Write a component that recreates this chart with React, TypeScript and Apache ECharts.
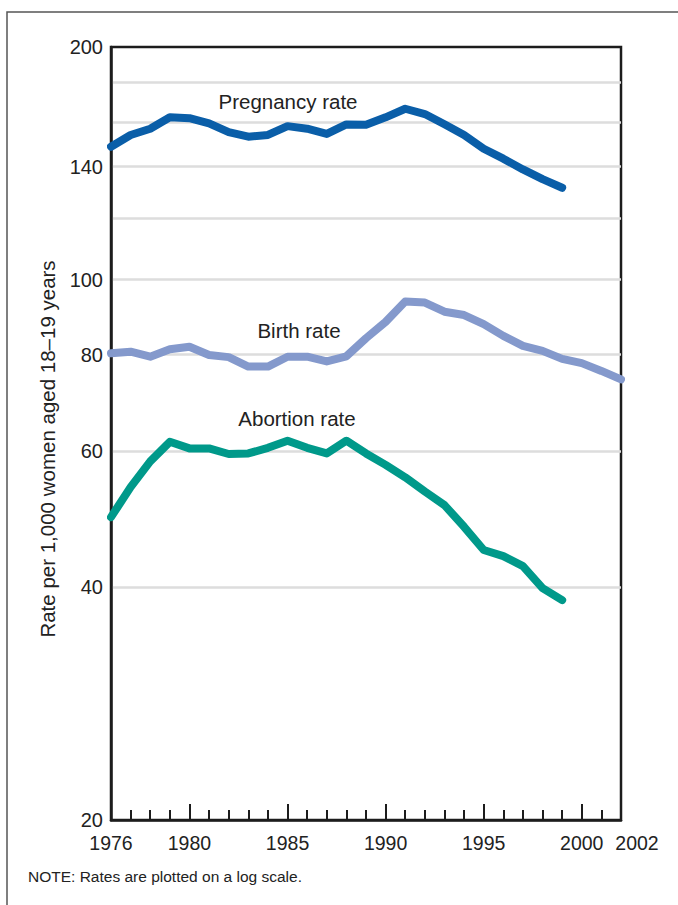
import React, { useEffect, useRef } from "react";
import * as echarts from "echarts";

const years = [
  1976, 1977, 1978, 1979, 1980, 1981, 1982, 1983, 1984, 1985, 1986, 1987, 1988,
  1989, 1990, 1991, 1992, 1993, 1994, 1995, 1996, 1997, 1998, 1999, 2000, 2001, 2002,
];
// 1976-1999
const pregnancyRate = [
  148.6, 153.9, 156.8, 162.2, 161.8, 159.3, 155.2, 153.1, 153.9, 158.0, 156.8, 154.4,
  158.8, 158.7, 162.2, 166.4, 163.8, 158.9, 153.9, 147.7, 143.4, 138.9, 134.9, 131.5,
];
// 1976-2002
const birthRate = [
  80.3, 80.7, 79.5, 81.3, 81.9, 79.9, 79.4, 77.2, 77.2, 79.5, 79.5, 78.4, 79.6, 84.0,
  88.2, 93.7, 93.4, 90.9, 90.0, 87.6, 84.6, 82.1, 80.9, 79.0, 78.0, 76.2, 74.3,
];
// 1976-1999
const abortionRate = [
  49.3, 53.9, 58.2, 61.7, 60.5, 60.5, 59.5, 59.6, 60.6, 61.9, 60.6, 59.6, 61.9, 59.6,
  57.6, 55.5, 53.2, 51.1, 47.9, 44.7, 43.9, 42.6, 39.9, 38.5,
];

const yLabelValues = [20, 40, 60, 80, 100, 140, 200];
const yGridValues = [40, 60, 80, 100, 120, 140, 160, 180];
const xLabelValues = [1976, 1980, 1985, 1990, 1995, 2000];
const xEndLabel = [2002];
const xMajorTicks = [1980, 1985, 1990, 1995, 2000];

const seriesNames = ["Pregnancy rate", "Birth rate", "Abortion rate"];
const yAxisTitle = "Rate per 1,000 women aged 18–19 years";
const noteText = "NOTE: Rates are plotted on a log scale.";

const FONT = "'Liberation Sans', Arial, Helvetica, sans-serif";
const AXIS = "#1c1c1c";

const toPairs = (vals: number[]) => vals.map((v, i) => [years[i], v]);

export default function App() {
  const ref = useRef<HTMLDivElement>(null);
  useEffect(() => {
    if (!ref.current) return;
    const chart = echarts.init(ref.current, undefined, { renderer: "svg" });
    const lineCommon = {
      type: "line" as const,
      showSymbol: false,
      symbol: "none",
      smooth: false,
      xAxisIndex: 0,
      yAxisIndex: 0,
    };
    const xLabelStyle = {
      formatter: (v: number) => String(v),
      fontSize: 19.5,
      fontFamily: FONT,
      color: "#222",
      margin: 13,
      showMinLabel: true,
      showMaxLabel: true,
      hideOverlap: false,
    };
    chart.setOption({
      animation: false,
      backgroundColor: "#ffffff",
      grid: {
        left: 111,
        top: 47,
        right: 57,
        bottom: 85,
        show: true,
        borderColor: AXIS,
        borderWidth: 2.5,
        backgroundColor: "transparent",
      },
      xAxis: [
        {
          type: "value",
          min: 1976,
          max: 2002,
          axisLine: { show: true, lineStyle: { color: AXIS, width: 2.5 } },
          axisTick: {
            show: true,
            inside: true,
            length: 10,
            customValues: years,
            lineStyle: { color: AXIS, width: 2 },
          },
          axisLabel: { ...xLabelStyle, customValues: xLabelValues },
          splitLine: { show: false },
        },
        {
          type: "value",
          min: 1976,
          max: 2002,
          position: "bottom",
          axisLine: { show: false },
          axisTick: {
            show: true,
            inside: true,
            length: 16,
            customValues: xMajorTicks,
            lineStyle: { color: AXIS, width: 2 },
          },
          axisLabel: {
            ...xLabelStyle,
            customValues: xEndLabel,
            align: "center",
            padding: [0, 0, 0, 32],
          },
          splitLine: { show: false },
        },
      ],
      yAxis: {
        type: "log",
        logBase: 10,
        min: 20,
        max: 200,
        axisLine: { show: true, lineStyle: { color: AXIS, width: 2.5 } },
        axisTick: { show: false, customValues: yGridValues },
        axisLabel: {
          customValues: yLabelValues,
          formatter: (v: number) => String(Math.round(v)),
          fontSize: 20,
          fontFamily: FONT,
          color: "#222",
          margin: 8,
          showMinLabel: true,
          showMaxLabel: true,
        },
        splitLine: { show: true, lineStyle: { color: "#dddddd", width: 2.5 } },
      },
      series: [
        {
          ...lineCommon,
          name: seriesNames[0],
          data: toPairs(pregnancyRate),
          lineStyle: { color: "#0a5ea8", width: 8, cap: "round", join: "round" },
          itemStyle: { color: "#0a5ea8" },
          z: 5,
        },
        {
          ...lineCommon,
          name: seriesNames[1],
          data: toPairs(birthRate),
          lineStyle: { color: "#8499cc", width: 8, cap: "round", join: "round" },
          itemStyle: { color: "#8499cc" },
          z: 4,
        },
        {
          ...lineCommon,
          name: seriesNames[2],
          data: toPairs(abortionRate),
          lineStyle: { color: "#00998a", width: 8, cap: "round", join: "round" },
          itemStyle: { color: "#00998a" },
          z: 4,
        },
      ],
      graphic: [
        {
          type: "rect",
          silent: true,
          shape: { x: 7, y: 12, width: 1000, height: 1000 },
          style: { fill: "none", stroke: "#555", lineWidth: 1.5 },
        },
        {
          type: "text",
          x: 288,
          y: 101,
          style: {
            text: seriesNames[0],
            fontSize: 20.5,
            fontFamily: FONT,
            fill: "#222",
            align: "center",
            verticalAlign: "middle",
          },
        },
        {
          type: "text",
          x: 299,
          y: 330,
          style: {
            text: seriesNames[1],
            fontSize: 20.5,
            fontFamily: FONT,
            fill: "#222",
            align: "center",
            verticalAlign: "middle",
          },
        },
        {
          type: "text",
          x: 297,
          y: 418,
          style: {
            text: seriesNames[2],
            fontSize: 20.5,
            fontFamily: FONT,
            fill: "#222",
            align: "center",
            verticalAlign: "middle",
          },
        },
        {
          type: "text",
          x: 47,
          y: 449,
          rotation: Math.PI / 2,
          style: {
            text: yAxisTitle,
            fontSize: 20.5,
            fontFamily: FONT,
            fill: "#222",
            align: "center",
            verticalAlign: "middle",
          },
        },
        {
          type: "text",
          x: 28,
          y: 876,
          style: {
            text: noteText,
            fontSize: 15.5,
            fontFamily: FONT,
            fill: "#222",
            align: "left",
            verticalAlign: "middle",
          },
        },
      ],
    });
    return () => chart.dispose();
  }, []);
  return (
    <div
      ref={ref}
      style={{ position: "fixed", left: 0, top: 0, width: 678, height: 905, background: "#fff" }}
    />
  );
}
